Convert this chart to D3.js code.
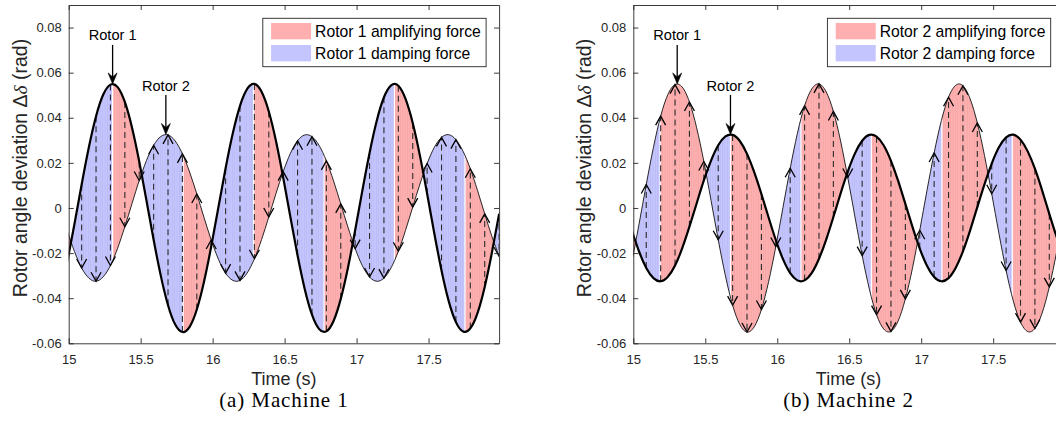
<!DOCTYPE html>
<meta charset="utf-8">
<style>
  body { margin: 0; background: #fff; }
  svg text { font-family: "Liberation Sans", Arial, Helvetica, sans-serif; fill: #262626; }
  .caption { font-family: "Liberation Serif", "Times New Roman", serif; fill: #000; }
</style>
<script src="https://d3js.org/d3.v7.min.js"></script>
<div id="chart"></div>
<script>

// sample times (s)
var times = [14.99, 15.04, 15.09, 15.14, 15.19, 15.24, 15.29, 15.34, 15.39, 15.44,
  15.49, 15.54, 15.59, 15.64, 15.69, 15.74, 15.79, 15.84, 15.89, 15.94,
  15.99, 16.04, 16.09, 16.14, 16.19, 16.24, 16.29, 16.34, 16.39, 16.44,
  16.49, 16.54, 16.59, 16.64, 16.69, 16.74, 16.79, 16.84, 16.89, 16.94,
  16.99, 17.04, 17.09, 17.14, 17.19, 17.24, 17.29, 17.34, 17.39, 17.44,
  17.49, 17.54, 17.59, 17.64, 17.69, 17.74, 17.79, 17.84, 17.89, 17.94,
  17.99];

// rotor angle deviation (rad)
var rotor1 = [-0.0240, -0.0071, 0.0104, 0.0269, 0.0407, 0.0503, 0.0547, 0.0536, 0.0470, 0.0356,
  0.0206, 0.0034, -0.0141, -0.0301, -0.0431, -0.0517, -0.0550, -0.0527, -0.0450, -0.0327,
  -0.0171, 0.0003, 0.0176, 0.0331, 0.0453, 0.0528, 0.0550, 0.0515, 0.0428, 0.0297,
  0.0135, -0.0040, -0.0211, -0.0360, -0.0473, -0.0537, -0.0547, -0.0501, -0.0403, -0.0265,
  -0.0099, 0.0077, 0.0244, 0.0387, 0.0491, 0.0544, 0.0542, 0.0484, 0.0377, 0.0232,
  0.0063, -0.0113, -0.0277, -0.0413, -0.0506, -0.0548, -0.0534, -0.0466, -0.0350, -0.0198,
  -0.0026];

var rotor2 = [-0.0101, -0.0193, -0.0266, -0.0311, -0.0325, -0.0305, -0.0255, -0.0178, -0.0083, 0.0020,
  0.0122, 0.0210, 0.0278, 0.0317, 0.0324, 0.0297, 0.0240, 0.0159, 0.0062, -0.0042,
  -0.0142, -0.0227, -0.0289, -0.0321, -0.0321, -0.0288, -0.0225, -0.0140, -0.0040, 0.0064,
  0.0161, 0.0242, 0.0298, 0.0324, 0.0316, 0.0277, 0.0209, 0.0120, 0.0018, -0.0085,
  -0.0180, -0.0256, -0.0306, -0.0325, -0.0311, -0.0265, -0.0192, -0.0099, 0.0004, 0.0106,
  0.0197, 0.0269, 0.0313, 0.0325, 0.0303, 0.0251, 0.0174, 0.0078, -0.0026, -0.0126,
  -0.0214];

// times where the two curves cross, and where each rotor peaks / bottoms out
var crossings = [15.017, 15.506, 15.996, 16.485, 16.975, 17.464, 17.954];
var rotor1Extrema = [15.305, 15.795, 16.284, 16.774, 17.263, 17.753];
var rotor2Extrema = [15.186, 15.675, 16.165, 16.654, 17.144, 17.633];

// force arrows drawn at every second sample, from 15.09 s
var arrowFirst = 2, arrowStep = 2;

var xTicks = [15, 15.5, 16, 16.5, 17, 17.5];
var xTickLabels = ["15", "15.5", "16", "16.5", "17", "17.5"];
var yTicks = [-0.06, -0.04, -0.02, 0, 0.02, 0.04, 0.06, 0.08];
var yTickLabels = ["-0.06", "-0.04", "-0.02", "0", "0.02", "0.04", "0.06", "0.08"];

// "Rotor 1" / "Rotor 2" call-outs
var annoLabels = ["Rotor 1", "Rotor 2"];
var annoTimes = [15.305, 15.675];
var annoTips = [0.0550, 0.0326];
var annoTails = [0.0723, 0.0501];
var annoText = [0.0744, 0.0520];

var panels = [
  { left: 68.7, thick: rotor1, thin: rotor2, from: rotor1, to: rotor2, extrema: rotor1Extrema,
    legend: ["Rotor 1 amplifying force", "Rotor 1 damping force"], caption: "(a) Machine 1" },
  { left: 633.3, thick: rotor2, thin: rotor1, from: rotor2, to: rotor1, extrema: rotor2Extrema,
    legend: ["Rotor 2 amplifying force", "Rotor 2 damping force"], caption: "(b) Machine 2" }
];

var W = 1056, H = 437;
var plotW = 430.4, plotTop = 5, plotBottom = 343.3;
var ampColor = "#ffafaf", dampColor = "#c4c4ff";

var svg = d3.select("#chart").append("svg")
  .attr("width", W).attr("height", H);
svg.append("rect").attr("width", W).attr("height", H).attr("fill", "#fff");
var defs = svg.append("defs");

// faint vertical streaks like the original patch fill
var pat = defs.append("pattern").attr("id", "streak")
  .attr("patternUnits", "userSpaceOnUse").attr("width", 2.4).attr("height", 10);
pat.append("rect").attr("x", 0).attr("width", 0.7).attr("height", 10)
  .attr("fill", "#000").attr("opacity", 0.05);

panels.forEach(function(p, i) {
  var g = svg.append("g").attr("transform", "translate(" + p.left + ",0)");

  var x = d3.scaleLinear().domain([15, 17.99]).range([0, plotW]);
  var y = d3.scaleLinear().domain([-0.06, 0.09]).range([plotBottom, plotTop]);

  defs.append("clipPath").attr("id", "clip" + i)
    .append("rect").attr("x", 0).attr("y", plotTop).attr("width", plotW).attr("height", plotBottom - plotTop);

  var plot = g.append("g").attr("clip-path", "url(#clip" + i + ")");

  var area = d3.area()
    .x(function(d, k) { return x(times[k]); })
    .y0(function(d, k) { return y(p.to[k]); })
    .y1(function(d, k) { return y(p.from[k]); })
    .curve(d3.curveNatural);

  // colour segments: breaks at crossings and at the rotor's own extrema
  var breaks = [14.9].concat(crossings, p.extrema).concat([18.2]).sort(d3.ascending);
  for (var j = 0; j < breaks.length - 1; j++) {
    var a = breaks[j], b = breaks[j + 1];
    var ga = p.extrema.indexOf(a) >= 0 ? 0.6 : 0;
    var gb = p.extrema.indexOf(b) >= 0 ? 0.6 : 0;
    var id = "seg" + i + "_" + j;
    defs.append("clipPath").attr("id", id)
      .append("rect").attr("x", x(a) + ga).attr("y", 0)
      .attr("width", Math.max(0, x(b) - x(a) - ga - gb)).attr("height", H);
    var sg = plot.append("g").attr("clip-path", "url(#" + id + ")");
    sg.append("path").datum(times).attr("d", area)
      .attr("fill", j % 2 === 0 ? ampColor : dampColor);
    sg.append("path").datum(times).attr("d", area)
      .attr("fill", "url(#streak)");
  }

  // dashed force arrows
  for (var k = arrowFirst; k < times.length; k += arrowStep) {
    var ax = x(times[k]), ya = y(p.from[k]), yb = y(p.to[k]);
    var dir = yb > ya ? 1 : -1;
    plot.append("line")
      .attr("x1", ax).attr("x2", ax).attr("y1", ya).attr("y2", yb)
      .attr("stroke", "#2a2a2a").attr("stroke-width", 1.1)
      .attr("stroke-dasharray", "6,4");
    var hl = 9, hw = 5;
    plot.append("path")
      .attr("d", "M" + (ax - hw) + "," + (yb - dir * hl) + "L" + ax + "," + yb + "L" + (ax + hw) + "," + (yb - dir * hl))
      .attr("fill", "none").attr("stroke", "#000").attr("stroke-width", 1.3);
  }

  var line = d3.line()
    .x(function(d, k) { return x(times[k]); })
    .y(function(d) { return y(d); })
    .curve(d3.curveNatural);

  plot.append("path").datum(p.thin).attr("d", line)
    .attr("fill", "none").attr("stroke", "#111").attr("stroke-width", 0.9);
  plot.append("path").datum(p.thick).attr("d", line)
    .attr("fill", "none").attr("stroke", "#000").attr("stroke-width", 2.2);

  // call-out arrows
  annoLabels.forEach(function(lab, m) {
    var cx = x(annoTimes[m]), tip = y(annoTips[m]), tail = y(annoTails[m]);
    g.append("line").attr("x1", cx).attr("x2", cx).attr("y1", tail).attr("y2", tip - 6)
      .attr("stroke", "#000").attr("stroke-width", 1.3);
    g.append("path")
      .attr("d", "M" + cx + "," + tip + "L" + (cx - 4.5) + "," + (tip - 11) + "L" + cx + "," + (tip - 7) + "L" + (cx + 4.5) + "," + (tip - 11) + "Z")
      .attr("fill", "#000").attr("stroke", "#000").attr("stroke-width", 0.6);
    g.append("text").attr("x", cx).attr("y", y(annoText[m]))
      .attr("text-anchor", "middle").style("font-size", "14.6px").style("fill", "#000")
      .text(lab);
  });

  // axes: inward ticks on all four sides
  g.append("g").attr("transform", "translate(0," + plotBottom + ")")
    .call(d3.axisBottom(x).tickValues(xTicks)
      .tickFormat(function(d, n) { return xTickLabels[n]; })
      .tickSizeInner(-5).tickSizeOuter(0).tickPadding(11));
  g.append("g").attr("transform", "translate(0," + plotTop + ")")
    .call(d3.axisTop(x).tickValues(xTicks).tickFormat("")
      .tickSizeInner(-5).tickSizeOuter(0));
  g.append("g")
    .call(d3.axisLeft(y).tickValues(yTicks)
      .tickFormat(function(d, n) { return yTickLabels[n]; })
      .tickSizeInner(-5).tickSizeOuter(0).tickPadding(7));
  g.append("g").attr("transform", "translate(" + plotW + ",0)")
    .call(d3.axisRight(y).tickValues(yTicks).tickFormat("")
      .tickSizeInner(-5).tickSizeOuter(0));

  g.selectAll(".domain").attr("stroke", "#262626").attr("stroke-width", 0.9);
  g.selectAll(".tick line").attr("stroke", "#262626").attr("stroke-width", 0.9);
  g.selectAll(".tick text").style("font-size", "13px").style("font-family", "Liberation Sans, Arial, sans-serif").attr("fill", "#262626");

  // axis titles
  g.append("text").attr("x", plotW / 2).attr("y", 385)
    .attr("text-anchor", "middle").style("font-size", "18px")
    .text("Time (s)");

  var yl = g.append("text")
    .attr("transform", "translate(-48.7,168) rotate(-90)")
    .attr("text-anchor", "middle").attr("dy", "0.35em").style("font-size", "19.5px");
  yl.append("tspan").text("Rotor angle deviation \u0394");
  yl.append("tspan").style("font-style", "italic").style("font-family", "Liberation Serif, serif").text("\u03b4");
  yl.append("tspan").text(" (rad)");

  // legend
  var lg = g.append("g").attr("transform", "translate(" + (plotW - 13 - 223.3) + ",18.3)");
  lg.append("rect").attr("width", 223.3).attr("height", 48.4)
    .attr("fill", "#fff").attr("stroke", "#262626").attr("stroke-width", 0.9);
  [ampColor, dampColor].forEach(function(c, n) {
    lg.append("rect").attr("x", 8.3).attr("y", 4.7 + n * 22).attr("width", 40).attr("height", 16.3)
      .attr("fill", c);
    lg.append("text").attr("x", 52.3).attr("y", 12.9 + n * 22).attr("dy", "0.35em")
      .style("font-size", "15.7px").style("fill", "#000").text(p.legend[n]);
  });

  // sub-caption
  g.append("text").attr("class", "caption").attr("x", plotW / 2).attr("y", 407)
    .attr("text-anchor", "middle").style("font-size", "21px").style("letter-spacing", "0.9px")
    .text(p.caption);
});

</script>
